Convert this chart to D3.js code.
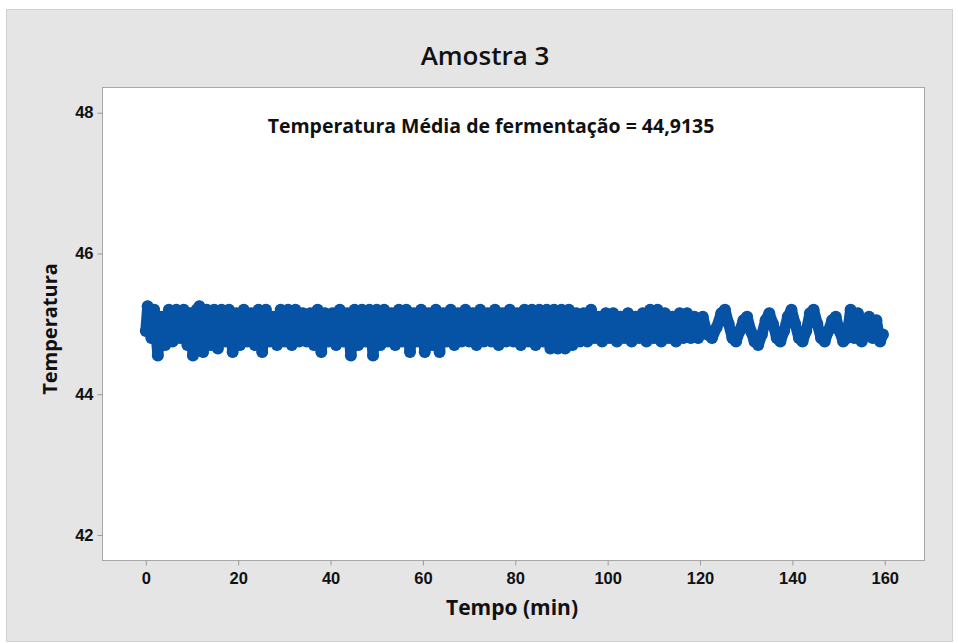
<!DOCTYPE html>
<html>
<head>
<meta charset="utf-8">
<script src="https://cdn.jsdelivr.net/npm/d3@7"></script>
<style>
  body { margin: 0; background: #fff; }
  svg { display: block; font-family: "Open Sans", "Noto Sans", sans-serif; }
  .tick text { font-size: 16.5px; font-weight: 600; fill: #111; }
  .tick line { stroke: #9a9a9a; }
  .domain { display: none; }
</style>
</head>
<body>
<div id="chart"></div>
<script>
  const tituloGrafico = "Amostra 3";
  const nota = "Temperatura Média de fermentação = 44,9135";
  const tituloX = "Tempo (min)";
  const tituloY = "Temperatura";

  const ticksX = [0, 20, 40, 60, 80, 100, 120, 140, 160];
  const ticksY = [42, 44, 46, 48];

  // minutes
  const tempo = [
    0, 0.4, 1.2, 1.8, 2.6, 3.4, 4.2, 5.0, 5.8, 6.6, 7.4, 8.2, 9.0, 9.6, 10.2, 11.0, 11.6, 12.4, 13.2, 14.0,
    14.8, 15.6, 16.4, 17.2, 18.0, 18.8, 19.6, 20.4, 21.2, 22.0, 22.8, 23.6, 24.4, 25.2, 26.0, 26.8, 27.6, 28.4, 29.2, 30.0,
    30.8, 31.6, 32.4, 33.2, 34.0, 34.8, 35.6, 36.4, 37.2, 38.0, 38.8, 39.6, 40.4, 41.2, 42.0, 42.8, 43.6, 44.4, 45.2, 46.0,
    46.8, 47.6, 48.4, 49.2, 50.0, 50.8, 51.6, 52.4, 53.2, 54.0, 54.8, 55.6, 56.4, 57.2, 58.0, 58.8, 59.6, 60.4, 61.2, 62.0,
    62.8, 63.6, 64.4, 65.2, 66.0, 66.8, 67.6, 68.4, 69.2, 70.0, 70.8, 71.6, 72.4, 73.2, 74.0, 74.8, 75.6, 76.4, 77.2, 78.0,
    78.8, 79.6, 80.4, 81.2, 82.0, 82.8, 83.6, 84.4, 85.2, 86.0, 86.8, 87.6, 88.4, 89.2, 90.0, 90.8, 91.6, 92.4, 93.2, 94.0,
    94.8, 95.6, 96.4, 97.2, 98.0, 98.8, 99.6, 100.4, 101.2, 102.0, 102.8, 103.6, 104.4, 105.2, 106.0, 106.8, 107.6, 108.4, 109.2, 110.0,
    110.8, 111.6, 112.4, 113.2, 114.0, 114.8, 115.6, 116.4, 117.2, 118.0, 118.8, 119.6,
    120.6, 121.6, 122.6, 123.6, 124.6, 125.4, 126.2, 127.0, 127.8, 128.6, 129.4, 130.2, 131.0, 131.8, 132.6, 133.4, 134.2, 135.0,
    135.8, 136.6, 137.4, 138.2, 139.0, 139.8, 140.6, 141.4, 142.2, 143.0, 143.8, 144.6, 145.4, 146.2, 147.0, 147.8, 148.6, 149.4,
    150.2, 151.0, 151.8, 152.6, 153.4, 154.2, 155.0, 155.8, 156.6, 157.4, 158.2, 159.0, 159.6
  ];

  const temperatura = [
    44.90, 45.25, 44.80, 45.20, 44.55, 45.10, 44.70, 45.20, 44.75, 45.20, 44.80, 45.20, 44.70, 45.15, 44.55, 45.20, 45.25, 44.60, 45.20, 44.70,
    45.20, 44.65, 45.20, 44.75, 45.20, 44.60, 45.15, 44.70, 45.20, 44.75, 45.15, 44.70, 45.20, 44.60, 45.20, 44.75, 45.10, 44.70, 45.20, 44.75,
    45.20, 44.70, 45.20, 44.75, 45.15, 44.75, 45.15, 44.70, 45.20, 44.60, 45.15, 44.75, 45.15, 44.70, 45.20, 44.75, 45.15, 44.55, 45.20, 44.70,
    45.20, 44.75, 45.20, 44.55, 45.20, 44.70, 45.20, 44.75, 45.15, 44.70, 45.20, 44.75, 45.20, 44.60, 45.15, 44.75, 45.20, 44.60, 45.15, 44.70,
    45.20, 44.60, 45.15, 44.75, 45.20, 44.70, 45.15, 44.75, 45.20, 44.75, 45.15, 44.70, 45.20, 44.75, 45.15, 44.75, 45.20, 44.70, 45.15, 44.75,
    45.20, 44.75, 45.15, 44.70, 45.20, 44.75, 45.20, 44.70, 45.20, 44.75, 45.20, 44.65, 45.20, 44.65, 45.20, 44.65, 45.20, 44.70, 45.15, 44.75,
    45.15, 44.75, 45.20, 44.80, 45.10, 44.75, 45.15, 44.80, 45.15, 44.75, 45.10, 44.80, 45.15, 44.75, 45.10, 44.80, 45.15, 44.75, 45.20, 44.80,
    45.20, 44.75, 45.15, 44.80, 45.10, 44.75, 45.15, 44.80, 45.15, 44.80, 45.10, 44.80,
    45.10, 44.85, 44.80, 44.95, 45.15, 45.20, 45.00, 44.80, 44.75, 44.90, 45.05, 45.10, 44.90, 44.75, 44.70, 44.85, 45.05, 45.15,
    45.00, 44.80, 44.75, 44.90, 45.10, 45.20, 45.00, 44.80, 44.75, 44.90, 45.15, 45.20, 45.00, 44.80, 44.75, 44.90, 45.05, 45.10,
    44.90, 44.75, 44.80, 45.20, 44.80, 45.15, 44.75, 44.85, 45.10, 44.80, 45.05, 44.75, 44.85
  ];

  const W = 958, H = 643;
  const plot = {left: 102, right: 924, top: 87, bottom: 560};
  const azul = "#0653a5";

  const svg = d3.select("#chart").append("svg")
    .attr("width", W)
    .attr("height", H);

  // grey frame
  svg.append("rect")
    .attr("x", 6.5).attr("y", 9.5)
    .attr("width", 946).attr("height", 632)
    .attr("fill", "#e5e5e5")
    .attr("stroke", "#d0d0d0");

  svg.append("rect")
    .attr("x", plot.left + 0.5).attr("y", plot.top + 0.5)
    .attr("width", plot.right - plot.left).attr("height", plot.bottom - plot.top)
    .attr("fill", "#fff")
    .attr("stroke", "#a8a8a8");

  const x = d3.scaleLinear()
    .domain([-9.49, 168.5])
    .range([plot.left, plot.right]);

  const y = d3.scaleLinear()
    .domain([41.645, 48.365])
    .range([plot.bottom, plot.top]);

  svg.append("g")
    .attr("transform", "translate(0," + (plot.bottom + 0.5) + ")")
    .call(d3.axisBottom(x).tickValues(ticksX).tickFormat(d3.format("d")).tickSize(5).tickPadding(4))
    .selectAll(".tick text").attr("dy", "0.9em");

  svg.append("g")
    .attr("transform", "translate(" + (plot.left + 0.5) + ",0)")
    .call(d3.axisLeft(y).tickValues(ticksY).tickFormat(d3.format("d")).tickSize(5).tickPadding(4));

  const pontos = tempo.map(function (t, i) { return {t: t, v: temperatura[i]}; });

  const linha = d3.line()
    .x(function (d) { return x(d.t); })
    .y(function (d) { return y(d.v); });

  svg.append("path")
    .attr("d", linha(pontos))
    .attr("fill", "none")
    .attr("stroke", azul)
    .attr("stroke-width", 11)
    .attr("stroke-linejoin", "round")
    .attr("stroke-linecap", "round");

  svg.append("g").selectAll("circle")
    .data(pontos)
    .join("circle")
    .attr("cx", function (d) { return x(d.t); })
    .attr("cy", function (d) { return y(d.v); })
    .attr("r", 6)
    .attr("fill", azul);

  svg.append("text")
    .attr("x", 485).attr("y", 65)
    .attr("text-anchor", "middle")
    .attr("font-size", 26)
    .attr("font-weight", 600)
    .attr("fill", "#111")
    .text(tituloGrafico);

  svg.append("text")
    .attr("x", 491).attr("y", 133)
    .attr("text-anchor", "middle")
    .attr("font-size", 19.5)
    .attr("font-weight", 700)
    .attr("fill", "#111")
    .text(nota);

  svg.append("text")
    .attr("x", 512).attr("y", 615)
    .attr("text-anchor", "middle")
    .attr("font-size", 21)
    .attr("font-weight", 700)
    .attr("fill", "#111")
    .text(tituloX);

  svg.append("text")
    .attr("transform", "translate(57,329) rotate(-90)")
    .attr("text-anchor", "middle")
    .attr("font-size", 20)
    .attr("font-weight", 700)
    .attr("fill", "#111")
    .text(tituloY);
</script>
</body>
</html>
